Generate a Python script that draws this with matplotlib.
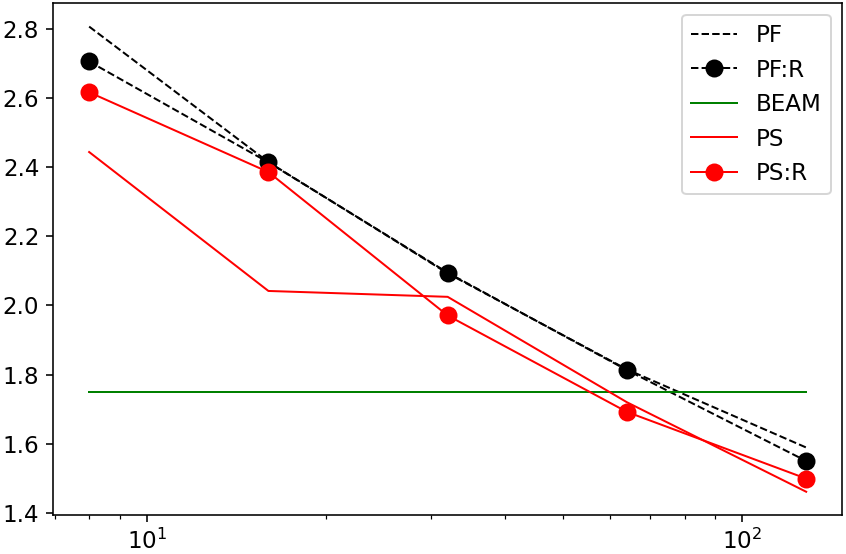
import numpy as np
import matplotlib
matplotlib.use('Agg')
import matplotlib.pyplot as plt

# valores
x = [8, 16, 32, 64, 128]
pf = [2.807, 2.415, 2.093, 1.815, 1.589]
pf_r = [2.706, 2.414, 2.095, 1.813, 1.550]
beam = [1.75, 1.75, 1.75, 1.75, 1.75]
ps = [2.444, 2.042, 2.025, 1.720, 1.461]
ps_r = [2.617, 2.386, 1.971, 1.692, 1.499]

plt.rcParams['font.size'] = 11.5

fig = plt.figure(figsize=(846 / 144, 554 / 144), dpi=144)
ax = fig.add_axes([0.063, 0.0704, 0.9323, 0.9236])

ax.plot(x, pf, 'k--', lw=1, label='PF')
ax.plot(x, pf_r, 'k--', marker='o', ms=8, lw=1, label='PF:R')
ax.plot(x, beam, 'g-', lw=1, label='BEAM')
ax.plot(x, ps, 'r-', lw=1, label='PS')
ax.plot(x, ps_r, 'r-', marker='o', ms=8, lw=1, label='PS:R')

ax.set_xscale('log')
ax.legend(loc='upper right')

fig.savefig('out.png', dpi=144)
